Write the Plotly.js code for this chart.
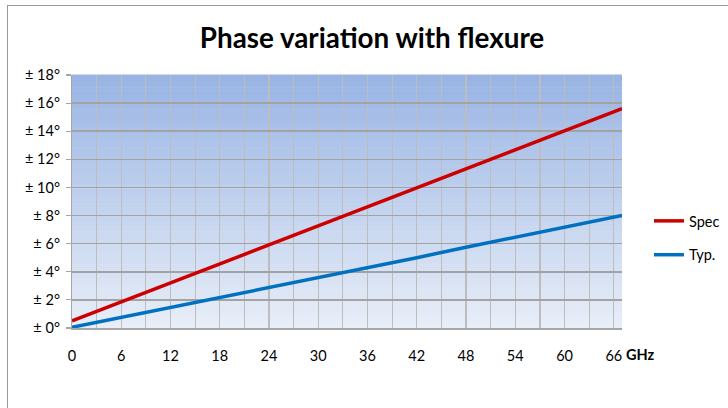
<!DOCTYPE html>
<html>
<head>
<meta charset="utf-8">
<script src="https://cdn.plot.ly/plotly-3.0.1.min.js"></script>
<style>
  html, body { margin: 0; padding: 0; background: #ffffff; overflow: hidden; }
  #wrap { position: relative; width: 728px; height: 408px; }
  #frame { position: absolute; left: 7px; top: 5px; width: 800px; height: 500px;
           border-left: 1.5px solid #9a9a9a; border-top: 1.5px solid #9a9a9a; pointer-events: none; z-index: 5; }
  #chart { position: absolute; left: 0; top: 0; width: 728px; height: 408px; }
</style>
</head>
<body>
<div id="wrap">
  <div id="chart"></div>
  <div id="frame"></div>
</div>
<script>
// ---- data ----
const freqGHz = [0, 6, 12, 18, 24, 30, 36, 42, 48, 54, 60, 66, 67];
const specDeg = [0.5, 1.85, 3.2, 4.55, 5.9, 7.25, 8.6, 9.95, 11.3, 12.65, 14.0, 15.35, 15.6];
const typDeg  = [0.05, 0.75, 1.45, 2.15, 2.85, 3.6, 4.3, 5.0, 5.75, 6.45, 7.2, 7.9, 8.0];

const xTickVals = [0, 6, 12, 18, 24, 30, 36, 42, 48, 54, 60, 66];
const yTickVals = [0, 2, 4, 6, 8, 10, 12, 14, 16, 18];
const yTickText = ["± 0°", "± 2°", "± 4°", "± 6°", "± 8°", "± 10°", "± 12°", "± 14°", "± 16°", "± 18°"];

const seriesNames = ["Spec", "Typ."];
const chartTitle = "Phase variation with flexure";
const xUnit = "GHz";

// ---- gradient background (stripes) ----
const topRGB = [152, 180, 228];
const botRGB = [232, 238, 248];
const nStripes = 80;
const shapes = [];
for (let i = 0; i < nStripes; i++) {
  const t = (i + 0.5) / nStripes; // 0 bottom -> 1 top
  const c = botRGB.map((b, k) => Math.round(b + (topRGB[k] - b) * t));
  shapes.push({
    type: "rect", xref: "paper", yref: "paper", layer: "below",
    x0: 0, x1: 1, y0: i / nStripes, y1: (i + 1) / nStripes + 0.002,
    fillcolor: "rgb(" + c.join(",") + ")", line: { width: 0 }
  });
}

const font = "Lato, 'Open Sans', 'Liberation Sans', sans-serif";

const traces = [
  { x: freqGHz, y: specDeg, name: seriesNames[0], mode: "lines", type: "scatter",
    legendgroup: "a", line: { color: "#cc0000", width: 3.5 } },
  { x: freqGHz, y: typDeg, name: seriesNames[1], mode: "lines", type: "scatter",
    legendgroup: "b", line: { color: "#0070c0", width: 3.5 } }
];

const layout = {
  width: 728, height: 408,
  margin: { l: 72, r: 106, t: 75, b: 80, autoexpand: false },
  paper_bgcolor: "#ffffff",
  plot_bgcolor: "rgba(0,0,0,0)",
  font: { family: font, size: 14, color: "#000000" },
  title: {
    text: "<b>" + chartTitle + "</b>",
    font: { family: font, size: 27.8, color: "#000000" },
    x: 0.511, xanchor: "center", y: 0.905, yanchor: "middle"
  },
  xaxis: {
    range: [0, 67], tickvals: xTickVals, ticks: "", ticklabelstandoff: 14,
    showgrid: true, gridcolor: "#bdbdbd", gridwidth: 1.2,
    minor: { dtick: 3, tick0: 0, showgrid: true, gridcolor: "#bdbdbd", gridwidth: 1.2 },
    showline: true, linecolor: "#a6a6a6", linewidth: 1.5,
    zeroline: false, fixedrange: true, automargin: false,
    tickfont: { family: font, size: 14.5 }
  },
  yaxis: {
    range: [0, 18], tickvals: yTickVals, ticktext: yTickText,
    ticks: "outside", ticklen: 5, tickcolor: "#a6a6a6", tickwidth: 1.2, ticklabelstandoff: 3,
    showgrid: true, gridcolor: "#a3a3a3", gridwidth: 1.5,
    showline: true, linecolor: "#a6a6a6", linewidth: 1.2,
    zeroline: false, fixedrange: true, automargin: false,
    tickfont: { family: font, size: 14.5 }
  },
  legend: {
    x: 1.049, xanchor: "left", y: 0.356, yanchor: "middle",
    font: { family: font, size: 14.5 },
    tracegroupgap: 12, itemwidth: 30, bgcolor: "rgba(0,0,0,0)",
    traceorder: "grouped"
  },
  showlegend: true,
  shapes: shapes,
  annotations: [
    { text: "<b>" + xUnit + "</b>", xref: "paper", yref: "paper", x: 1.0, y: 0,
      xanchor: "left", yanchor: "top", yshift: -16, xshift: 2, showarrow: false,
      font: { family: font, size: 14.5, color: "#000000" } }
  ]
};

Plotly.newPlot("chart", traces, layout, { displayModeBar: false, staticPlot: true });
</script>
</body>
</html>
